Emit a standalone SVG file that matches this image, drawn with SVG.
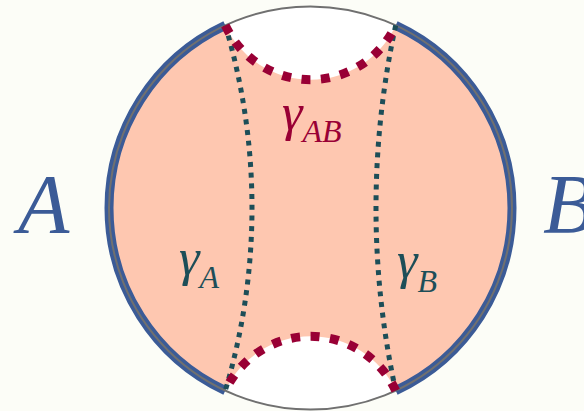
<svg xmlns="http://www.w3.org/2000/svg" width="584" height="411" viewBox="0 0 584 411">
<style>
.lbl{font-family:"Liberation Serif","Times New Roman",serif;font-style:italic}
.big{font-size:84px;fill:#3b5b97}
.g{font-size:52px}
.sub{font-size:32px}
.teal{fill:#1d4e58}
.red{fill:#990035}
.geoA{fill:none;stroke:#1d4e58;stroke-width:5;stroke-dasharray:5 5.7}
.geoAB{fill:none;stroke:#990035;stroke-width:9;stroke-dasharray:9 10.5}
.bnd{fill:none;stroke:#3b5b97;stroke-width:9}
</style>
<rect width="584" height="411" fill="#fcfdf7"/>
<g id="disk">
<circle cx="310.5" cy="208" r="201.5" fill="#ffffff"/>
<path d="M225.3 25.4 A94 94 0 0 0 395.7 25.4 A201.5 201.5 0 0 1 395.7 390.6 A94 94 0 0 0 225.3 390.6 A201.5 201.5 0 0 1 225.3 25.4 Z" fill="#fec7b0"/>
</g>
<g id="regionA">
<path class="bnd" d="M225.3 390.6 A201.5 201.5 0 0 1 225.3 25.4"/>
</g>
<g id="regionB">
<path class="bnd" d="M395.7 25.4 A201.5 201.5 0 0 1 395.7 390.6"/>
</g>
<g id="circle">
<circle cx="310.5" cy="208" r="201.5" fill="none" stroke="#707070" stroke-width="2"/>
</g>
<g id="connectors">
<path class="geoA" d="M225.3 25.4 A638 638 0 0 1 225.3 390.6"/>
<path class="geoA" d="M395.7 25.4 A856 856 0 0 0 395.7 390.6"/>
<path class="geoAB" d="M225.3 25.4 A94 94 0 0 0 395.7 25.4"/>
<path class="geoAB" d="M395.7 390.6 A94 94 0 0 0 225.3 390.6"/>
</g>
<g id="labelA"><text class="lbl big" x="18" y="233">A</text></g>
<g id="labelB"><text class="lbl big" x="543" y="233">B</text></g>
<g id="gammaAB"><text class="lbl red" x="282" y="130"><tspan class="g">γ</tspan><tspan class="sub" dy="12">AB</tspan></text></g>
<g id="gammaA"><text class="lbl teal" x="179" y="275"><tspan class="g">γ</tspan><tspan class="sub" dy="13">A</tspan></text></g>
<g id="gammaB"><text class="lbl teal" x="397" y="278"><tspan class="g">γ</tspan><tspan class="sub" dy="14">B</tspan></text></g>
</svg>
